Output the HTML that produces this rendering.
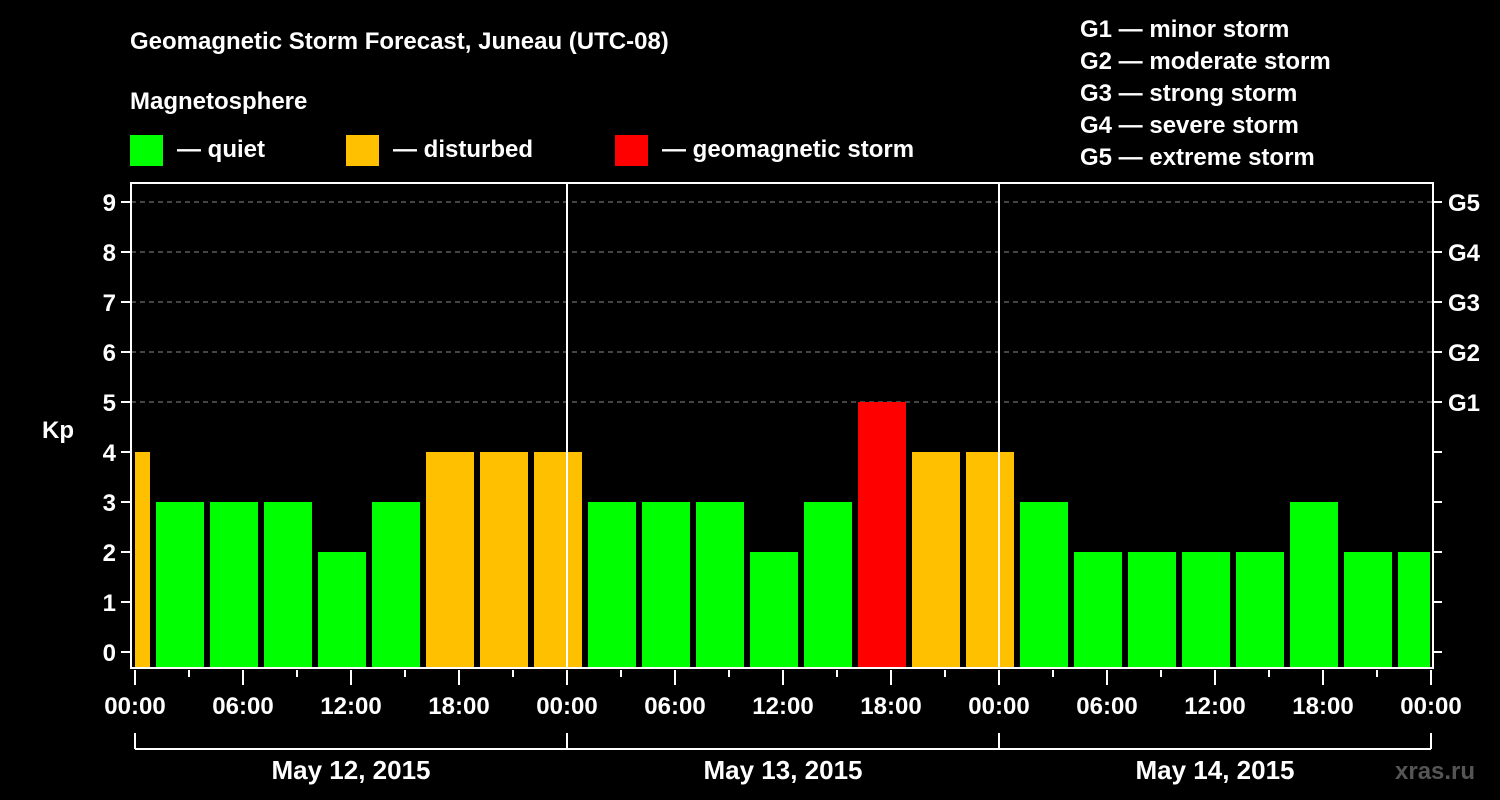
<!DOCTYPE html>
<html><head><meta charset="utf-8"><style>
body{margin:0;background:#000;}
svg{display:block;font-family:"Liberation Sans",sans-serif;font-weight:bold;}
</style></head><body>
<svg id="chart" width="1500" height="800" xmlns="http://www.w3.org/2000/svg">
<rect x="0" y="0" width="1500" height="800" fill="#000"/>
<text x="130" y="49" fill="#fff" font-size="24">Geomagnetic Storm Forecast, Juneau (UTC-08)</text>
<text x="130" y="109" fill="#fff" font-size="24">Magnetosphere</text>
<g><rect x="130" y="135" width="33" height="31" fill="#00ff00"/><text x="177" y="157" fill="#fff" font-size="24">— quiet</text></g>
<g><rect x="346" y="135" width="33" height="31" fill="#ffc000"/><text x="393" y="157" fill="#fff" font-size="24">— disturbed</text></g>
<g><rect x="615" y="135" width="33" height="31" fill="#ff0000"/><text x="662" y="157" fill="#fff" font-size="24">— geomagnetic storm</text></g>
<g fill="#fff" font-size="24">
<text x="1080" y="37">G1 — minor storm</text>
<text x="1080" y="69">G2 — moderate storm</text>
<text x="1080" y="101">G3 — strong storm</text>
<text x="1080" y="133">G4 — severe storm</text>
<text x="1080" y="165">G5 — extreme storm</text>
</g>
<text x="42" y="438" fill="#fff" font-size="24">Kp</text>
<text x="1395" y="779" fill="#555" font-size="24">xras.ru</text>
<g id="plot"></g>
</svg>
<script>
const kpValues=[4,3,3,3,2,3,4,4,4, 3,3,3,2,3,5,4,4, 3,2,2,2,2,3,2,2];
const yTicks=[0,1,2,3,4,5,6,7,8,9];
const gLabels=["G1","G2","G3","G4","G5"];
const xTickLabels=["00:00","06:00","12:00","18:00","00:00","06:00","12:00","18:00","00:00","06:00","12:00","18:00","00:00"];
const dayLabels=["May 12, 2015","May 13, 2015","May 14, 2015"];
const NS="http://www.w3.org/2000/svg";
const g=document.getElementById('plot');
const X0=135,PX_H=18,L=131,R=1433,T=183,B=668;
const xs=h=>X0+h*PX_H;
const ys=v=>652-v*50;
function mk(tag,attrs,parent){const e=document.createElementNS(NS,tag);for(const k in attrs)e.setAttribute(k,attrs[k]);(parent||g).appendChild(e);return e;}
// grid
for(let v=5;v<=9;v++){const e=mk('line',{x1:L,x2:R,y1:ys(v),y2:ys(v),stroke:'#888','stroke-width':1,'stroke-dasharray':'5,4'});

}
// bars
kpValues.forEach((v,i)=>{const c=i*3-0.5;let x1=xs(c)-24,x2=xs(c)+24;x1=Math.max(x1,L+4);x2=Math.min(x2,R-3);
const col=v>=5?'#ff0000':(v>=4?'#ffc000':'#00ff00');
const e=mk('rect',{x:x1,y:ys(v),width:x2-x1,height:B-ys(v),fill:col});

});
// day lines
[24,48].forEach(h=>{const e=mk('line',{x1:xs(h),x2:xs(h),y1:T,y2:B,stroke:'#fff','stroke-width':2});

});
// frame
const fr=mk('rect',{x:L,y:T,width:R-L,height:B-T,fill:'none',stroke:'#fff','stroke-width':2});


// y ticks
yTicks.forEach(v=>{mk('line',{x1:L-10,x2:L,y1:ys(v),y2:ys(v),stroke:'#fff','stroke-width':2});
mk('line',{x1:R,x2:R+9,y1:ys(v),y2:ys(v),stroke:'#fff','stroke-width':2});
const t=mk('text',{x:116,y:ys(v)+9,fill:'#fff','font-size':24,'text-anchor':'end'});t.textContent=v;

});
gLabels.forEach((s,i)=>{const t=mk('text',{x:1448,y:ys(5+i)+9,fill:'#fff','font-size':24});t.textContent=s;

});
// x ticks
for(let h=0;h<=72;h+=3){const long=h%6===0;mk('line',{x1:xs(h),x2:xs(h),y1:B+2,y2:B+(long?17:9),stroke:'#fff','stroke-width':2});}
xTickLabels.forEach((s,i)=>{const t=mk('text',{x:xs(i*6),y:714,fill:'#fff','font-size':24,'text-anchor':'middle'});t.textContent=s;

});
// day bracket
mk('line',{x1:xs(0),x2:xs(72),y1:749,y2:749,stroke:'#fff','stroke-width':2});
[0,24,48,72].forEach(h=>mk('line',{x1:xs(h),x2:xs(h),y1:733,y2:749,stroke:'#fff','stroke-width':2}));
dayLabels.forEach((s,i)=>{const t=mk('text',{x:xs(i*24+12),y:779,fill:'#fff','font-size':26,'text-anchor':'middle'});t.textContent=s;

});
</script>
</body></html>
